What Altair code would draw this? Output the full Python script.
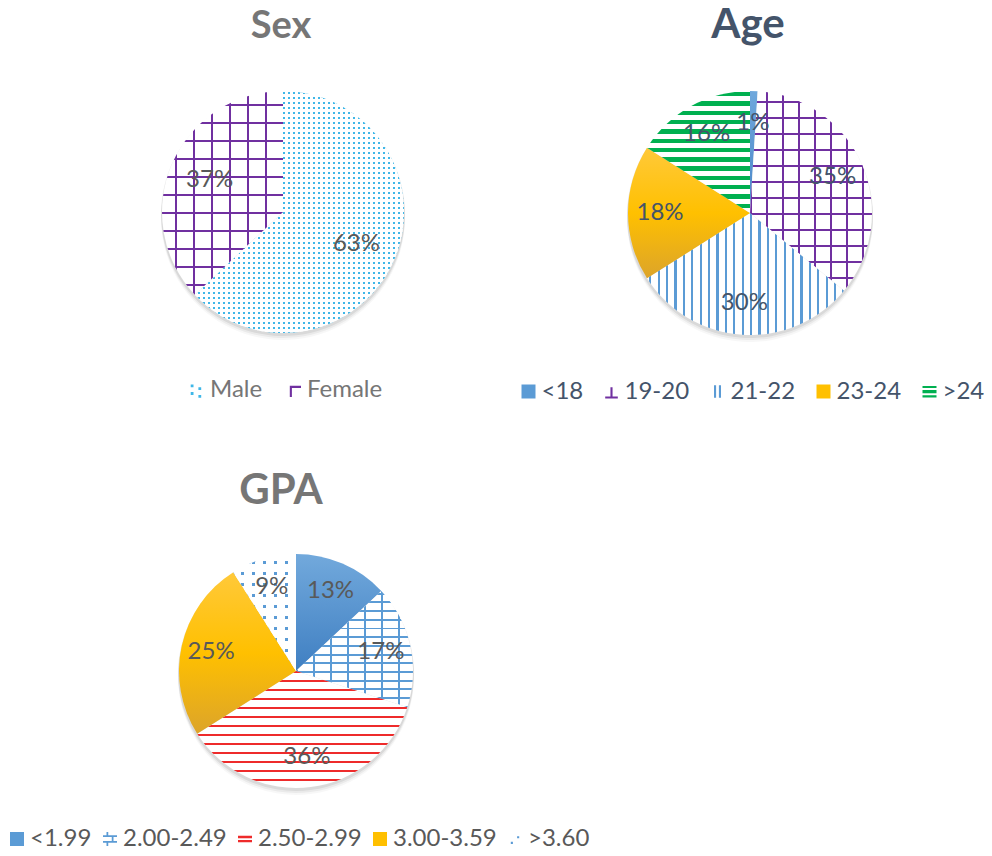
import math
import altair as alt
import pandas as pd

# ---------------- data ----------------
sex_labels = ["Male", "Female"]
sex_values = [63, 37]
age_labels = ["<18", "19-20", "21-22", "23-24", ">24"]
age_values = [1, 35, 30, 18, 16]
gpa_labels = ["<1.99", "2.00-2.49", "2.50-2.99", "3.00-3.59", ">3.60"]
gpa_values = [13, 17, 36, 25, 9]
titles = ["Sex", "Age", "GPA"]

# ---------------- style ----------------
FONT = "Lato"
CLEAR = "rgba(255,255,255,0)"
WHITE = "#ffffff"
BLUE = "#5b9bd5"
PURPLE = "#7030a0"
CYAN = "#3fb7e8"
GOLD = "#ffc000"
GREEN = "#00b050"
RED = "#ee2b2b"

SQUARE = "M-1,-1H1V1H-1Z"


def frame(labels, values):
    return pd.DataFrame({"cat": labels, "val": values, "order": list(range(len(labels)))})


def slice_angles(values):
    tot = float(sum(values))
    out, acc = [], 0.0
    for v in values:
        out.append((acc / tot * 360.0, (acc + v) / tot * 360.0))
        acc += v
    return out


def slice_bbox(a0, a1, r):
    pts = [(0.0, 0.0)]
    angs = [a0, a1] + [a for a in (0, 90, 180, 270, 360) if a0 < a < a1]
    for a in angs:
        t = math.radians(a)
        pts.append((r * math.sin(t), -r * math.cos(t)))
    xs = [p[0] for p in pts]
    ys = [p[1] for p in pts]
    return min(xs), max(xs), min(ys), max(ys)


def stripes(lo, hi, period, width, fg, bg, horizontal_axis):
    span = hi - lo
    stops = [{"offset": 0, "color": bg}]
    k = math.floor(lo / period) - 1
    while k * period < hi:
        a = k * period
        b = a + width
        oa = max(0.0, (a - lo) / span)
        ob = min(1.0, (b - lo) / span)
        if ob > oa:
            oa, ob = round(oa, 5), round(ob, 5)
            stops += [
                {"offset": oa, "color": bg},
                {"offset": oa, "color": fg},
                {"offset": ob, "color": fg},
                {"offset": ob, "color": bg},
            ]
        k += 1
    stops.append({"offset": 1, "color": bg})
    if horizontal_axis:
        return {"gradient": "linear", "x1": 0, "y1": 0, "x2": 1, "y2": 0, "stops": stops}
    return {"gradient": "linear", "x1": 0, "y1": 0, "x2": 0, "y2": 1, "stops": stops}


def fills(spec, bb):
    x0, x1, y0, y1 = bb
    kind = spec[0]
    if kind == "solid":
        cols = spec[1]
        n = len(cols) - 1
        return [{"gradient": "linear", "x1": 0, "y1": 0, "x2": 0, "y2": 1,
                 "stops": [{"offset": i / n, "color": c} for i, c in enumerate(cols)]}]
    if kind == "hlines":
        _, col, p, w = spec
        return [stripes(y0, y1, p, w, col, WHITE, False)]
    if kind == "vlines":
        _, col, p, w = spec
        return [stripes(x0, x1, p, w, col, WHITE, True)]
    if kind == "grid":
        _, col, ph, pv, w = spec
        return [stripes(y0, y1, ph, w, col, WHITE, False),
                stripes(x0, x1, pv, w, col, CLEAR, True)]
    if kind == "dots":
        _, col, p, s = spec
        return [stripes(y0, y1, p, s, col, WHITE, False),
                stripes(x0, x1, p, s, CLEAR, WHITE, True)]
    raise ValueError(kind)


def shape_expr(mapping):
    items = list(mapping.items())
    expr = f"'{items[-1][1]}'"
    for k, v in reversed(items[:-1]):
        expr = f"datum.value === '{k}' ? '{v}' : ({expr})"
    return alt.ExprRef(expr=expr)


def legend_kw(x, y, n, color, pad, symbols):
    return dict(orient="none", legendX=x, legendY=y, direction="horizontal", columns=n,
                title=None, symbolType=shape_expr(symbols), symbolSize=196,
                symbolStrokeWidth=0, symbolOpacity=1,
                labelFont=FONT, labelFontSize=24, labelColor=color, labelOffset=1,
                columnPadding=pad, padding=0)


def pie(labels, values, cx, cy, r, colors, specs, legend, label_r, label_color):
    df = frame(labels, values)

    def base():
        return (
            alt.Chart(df)
            .transform_window(cum="sum(val)", sort=[alt.SortField("order")], frame=[None, 0])
            .transform_calculate(start="datum.cum - datum.val",
                                 mid="datum.cum - datum.val / 2",
                                 label="datum.val + '%'")
        )

    theta = alt.Theta("start:Q", scale=alt.Scale(domain=[0, 100]))
    layers = []
    for off, op in ((2, 0.07), (4, 0.05), (6, 0.03)):
        layers.append(
            base().mark_arc(radius=r + 1, color="#000000", opacity=op).encode(
                theta=theta, theta2="cum:Q", x=alt.value(cx), y=alt.value(cy + off))
        )
    layers.append(
        base().mark_arc(radius=1).encode(
            theta=theta, theta2="cum:Q", x=alt.value(cx), y=alt.value(cy),
            color=alt.Color("cat:N", scale=alt.Scale(domain=labels, range=colors),
                            legend=alt.Legend(**legend)))
    )
    for lab, spec, (a0, a1) in zip(labels, specs, slice_angles(values)):
        bb = slice_bbox(a0, a1, r)
        for g in fills(spec, bb):
            layers.append(
                base().transform_filter(alt.datum.cat == lab)
                .mark_arc(radius=r, fill=g)
                .encode(theta=theta, theta2="cum:Q", x=alt.value(cx), y=alt.value(cy))
            )
    layers.append(
        base().mark_text(radius=label_r, font=FONT, fontSize=24, color=label_color).encode(
            theta=alt.Theta("mid:Q", scale=alt.Scale(domain=[0, 100])),
            text="label:N", x=alt.value(cx), y=alt.value(cy))
    )
    return layers


# legend glyphs drawn as filled paths in a [-1, 1] box
sex_symbols = {
    "Male": "M-0.9,-0.8h0.4v0.4h-0.4z M0.2,-0.4h0.4v0.4h-0.4z M-0.9,0.3h0.4v0.4h-0.4z M0.2,0.7h0.4v0.4h-0.4z",
    "Female": "M-0.6,-0.6H1V-0.3H-0.3V1H-0.6Z",
}
age_symbols = {
    "<18": SQUARE,
    "19-20": "M-0.9,0.7H-0.15V-0.6H0.15V0.7H0.9V1H-0.9Z",
    "21-22": "M-0.5,-0.9H-0.2V0.9H-0.5Z M0.2,-0.9H0.5V0.9H0.2Z",
    "23-24": SQUARE,
    ">24": "M-1,-0.8H1V-0.5H-1Z M-1,-0.2H1V0.25H-1Z M-1,0.55H1V0.85H-1Z",
}
gpa_symbols = {
    "<1.99": SQUARE,
    "2.00-2.49": "M-1,-0.55H1V-0.3H-1Z M-1,0.3H1V0.55H-1Z M0.25,-0.3H0.5V0.3H0.25Z M-0.5,0.55H-0.25V1H-0.5Z M-0.5,-1H-0.25V-0.55H-0.5Z",
    "2.50-2.99": "M-1,-0.45H1V-0.12H-1Z M-1,0.15H1V0.48H-1Z",
    "3.00-3.59": SQUARE,
    ">3.60": "M-0.6,0.4h0.3v0.3h-0.3z M0.3,-0.4h0.3v0.3h-0.3z",
}

sex_layers = pie(
    sex_labels, sex_values, 275, 204, 121,
    [CYAN, PURPLE],
    [("dots", CYAN, 5, 2.2), ("grid", PURPLE, 18, 18, 2.4)],
    legend_kw(177, 370, 2, "#767676", 19, sex_symbols), 80, "#595959")

age_layers = pie(
    age_labels, age_values, 742, 205, 122,
    [BLUE, PURPLE, BLUE, GOLD, GREEN],
    [("solid", ["#6fa8dc", "#4a86c8"]),
     ("grid", PURPLE, 16, 16, 2.2),
     ("vlines", BLUE, 8.4, 2.2),
     ("solid", ["#ffc93a", "#ffc000", "#dca42a"]),
     ("hlines", GREEN, 9.3, 4.3)],
    legend_kw(508.5, 371.5, 5, "#44546a", 16, age_symbols), 90, "#44546a")

gpa_layers = pie(
    gpa_labels, gpa_values, 288, 663, 117,
    [BLUE, BLUE, RED, GOLD, BLUE],
    [("solid", ["#72a9dc", "#3f7fc2"]),
     ("grid", BLUE, 8.7, 17, 2.0),
     ("hlines", RED, 9.0, 2.4),
     ("solid", ["#ffc93a", "#ffc000", "#dca42a"]),
     ("dots", BLUE, 11, 2.6)],
    legend_kw(-3, 819, 5, "#595959", 6, gpa_symbols), 87, "#595959")

title_style = {"Sex": (273, 29.5, "#767676", 38),
               "Age": (740, 29.5, "#44546a", 42),
               "GPA": (273, 495.5, "#767676", 42)}
title_layers = []
for t in titles:
    tx, ty, tc, fs = title_style[t]
    title_layers.append(
        alt.Chart(pd.DataFrame({"t": [t]}))
        .mark_text(font=FONT, fontSize=fs, fontWeight="bold", color=tc, baseline="alphabetic")
        .encode(text="t:N", x=alt.value(tx), y=alt.value(ty))
    )

chart = (
    alt.layer(*(sex_layers + age_layers + gpa_layers + title_layers))
    .resolve_scale(color="independent")
    .properties(width=976, height=840, padding=0,
                autosize=alt.AutoSizeParams(type="none"))
    .configure_view(strokeWidth=0)
)

chart.save("out.html", embed_options={"renderer": "svg", "actions": False})
